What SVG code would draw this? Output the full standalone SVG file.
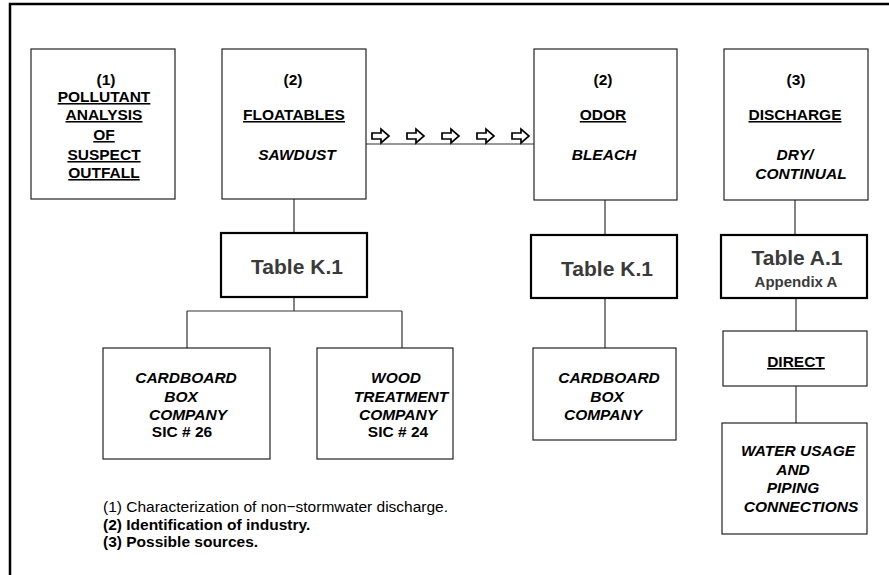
<svg xmlns="http://www.w3.org/2000/svg" width="889" height="575" viewBox="0 0 889 575">
<defs>
<style>
.box{fill:#fff;stroke:#222;stroke-width:1.2}
.tbl{fill:#fff;stroke:#000;stroke-width:2.2}
.ln{stroke:#333;stroke-width:1.2;fill:none}
.arr{fill:#fff;stroke:#000;stroke-width:1.7;stroke-linejoin:miter}
text{font-family:"Liberation Sans",Arial,sans-serif;fill:#000;text-anchor:middle}
.b{font-size:15.5px;font-weight:bold}
.u{text-decoration:underline}
.i{font-size:15.5px;font-weight:bold;font-style:italic}
.t{font-size:21px;font-weight:bold;fill:#3a3a3a}
.ts{font-size:15px;font-weight:bold;fill:#3a3a3a}
.lg{font-size:15.5px;text-anchor:start}
</style>
<path id="ar" class="arr" d="M0,-3 H9 V-7 L17,0 L9,7 V3 H0 Z"/>
</defs>
<path d="M10,575 V4 H889" fill="none" stroke="#000" stroke-width="2.5"/>
<g id="connectors">
<path class="ln" d="M294,199 V233 M294,297 V311 M187,311 H402 M187,311 V348 M402,311 V348"/>
<path class="ln" d="M366,144 H534"/>
<path class="ln" d="M605,200 V235 M605,298 V348"/>
<path class="ln" d="M795,200 V235 M796,298 V331 M796,386 V423"/>
<use href="#ar" x="372" y="136"/>
<use href="#ar" x="407" y="136"/>
<use href="#ar" x="442" y="136"/>
<use href="#ar" x="477" y="136"/>
<use href="#ar" x="512" y="136"/>
</g>
<g id="n1">
<rect class="box" x="31" y="49" width="144" height="150"/>
<text class="b" x="106" y="85">(1)</text>
<text class="b u" x="104" y="102">POLLUTANT</text>
<text class="b u" x="104" y="120">ANALYSIS</text>
<text class="b u" x="104" y="140">OF</text>
<text class="b u" x="104" y="160">SUSPECT</text>
<text class="b u" x="104" y="178">OUTFALL</text>
</g>
<g id="n2">
<rect class="box" x="222" y="49" width="144" height="150"/>
<text class="b" x="293" y="85">(2)</text>
<text class="b u" x="294" y="120">FLOATABLES</text>
<text class="i" x="297" y="160">SAWDUST</text>
</g>
<g id="n3">
<rect class="box" x="534" y="49" width="143" height="151"/>
<text class="b" x="603" y="85">(2)</text>
<text class="b u" x="603" y="120">ODOR</text>
<text class="i" x="604" y="160">BLEACH</text>
</g>
<g id="n4">
<rect class="box" x="724" y="49" width="144" height="151"/>
<text class="b" x="796" y="85">(3)</text>
<text class="b u" x="795" y="120">DISCHARGE</text>
<text class="i" x="795" y="160">DRY/</text>
<text class="i" x="801" y="179">CONTINUAL</text>
</g>
<g id="t1">
<rect class="tbl" x="221" y="233" width="146" height="64"/>
<text class="t" x="297" y="274">Table K.1</text>
</g>
<g id="t2">
<rect class="tbl" x="531" y="235" width="146" height="63"/>
<text class="t" x="607" y="276">Table K.1</text>
</g>
<g id="t3">
<rect class="tbl" x="721" y="235" width="146" height="63"/>
<text class="t" x="797" y="265">Table A.1</text>
<text class="ts" x="796" y="287">Appendix A</text>
</g>
<g id="c1">
<rect class="box" x="103" y="348" width="167" height="111"/>
<text class="i" x="186" y="383">CARDBOARD</text>
<text class="i" x="181" y="402">BOX</text>
<text class="i" x="188" y="420">COMPANY</text>
<text class="b" x="182" y="437">SIC # 26</text>
</g>
<g id="c2">
<rect class="box" x="317" y="348" width="136" height="111"/>
<text class="i" x="396" y="383">WOOD</text>
<text class="i" x="401" y="402">TREATMENT</text>
<text class="i" x="398" y="420">COMPANY</text>
<text class="b" x="398" y="437">SIC # 24</text>
</g>
<g id="c3">
<rect class="box" x="533" y="348" width="143" height="92"/>
<text class="i" x="609" y="383">CARDBOARD</text>
<text class="i" x="607" y="402">BOX</text>
<text class="i" x="603" y="420">COMPANY</text>
</g>
<g id="d1">
<rect class="box" x="723" y="331" width="144" height="55"/>
<text class="b u" x="796" y="367">DIRECT</text>
</g>
<g id="w1">
<rect class="box" x="722" y="423" width="145" height="111"/>
<text class="i" x="798" y="456">WATER USAGE</text>
<text class="i" x="793" y="475">AND</text>
<text class="i" x="793" y="493">PIPING</text>
<text class="i" x="801" y="512">CONNECTIONS</text>
</g>
<g id="legend">
<text class="lg" x="103" y="512">(1) Characterization of non−stormwater discharge.</text>
<text class="lg" x="103" y="530" font-weight="bold">(2) Identification of industry.</text>
<text class="lg" x="103" y="547" font-weight="bold">(3) Possible sources.</text>
</g>
</svg>
